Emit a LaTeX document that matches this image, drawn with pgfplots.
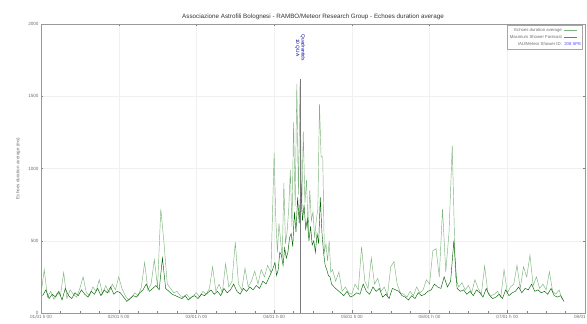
\documentclass[border=0pt]{standalone}
\usepackage{pgfplots}
\pgfplotsset{compat=1.18}
\usepackage{fontspec}
\setmainfont{Liberation Sans}
\definecolor{lgreen}{RGB}{125,180,125}
\definecolor{dgreen}{RGB}{0,100,0}
\definecolor{txtgrey}{RGB}{110,110,110}
\definecolor{vline}{RGB}{120,120,120}
\begin{document}
\begin{tikzpicture}
\begin{axis}[
  at={(0,0)}, anchor=south west,
  scale only axis, width=544bp, height=289bp,
  xmin=0, xmax=168, ymin=0, ymax=2000,
  xtick={0,24,48,72,96,120,144,168},
  xticklabels={01/01 h 00,02/01 h 00,03/01 h 00,04/01 h 00,05/01 h 00,06/01 h 00,07/01 h 00,08/01 h 00},
  ytick={0,500,1000,1500,2000},
  minor x tick num=3,
  tick align=inside, tick pos=both,
  major tick length=2.5bp, minor tick length=1.5bp,
  every tick/.style={color=gray},
  axis line style={gray!80},
  grid=major, major grid style={gray!12},
  /pgf/number format/assume math mode=true,
  /pgf/number format/1000 sep={},
  tick label style={font=\fontsize{4.6}{5}\selectfont, text=txtgrey},
  xticklabel style={yshift=1.5bp},
  yticklabel style={xshift=1bp},
  ylabel={Echoes duration average (ms)},
  ylabel style={font=\fontsize{4.6}{5}\selectfont, text=txtgrey, at={(axis description cs:-0.042,0.5)}, anchor=center},
  title={Associazione Astrofili Bolognesi - RAMBO/Meteor Research Group - Echoes duration average},
  title style={font=\fontsize{6.3}{7}\selectfont, text=black!80, yshift=-5bp},
  legend style={at={(rel axis cs:0.9945,0.995)}, anchor=north east, font=\fontsize{4.3}{5}\selectfont, text=txtgrey, draw=gray!70, inner sep=0.6bp, row sep=-1.5bp, fill=white},
  legend cell align=right, legend plot pos=right,
  legend image code/.code={\draw[#1] (0cm,0cm) -- (0.45cm,0cm);},
]
\addplot[lgreen, line width=0.45bp] coordinates {
(0,130)(1,300)(2,110)(3,150)(4,95)(5,140)(6,120)(7,280)(8,100)(9,160)(10,130)(11,110)(12,170)(13,250)(14,140)(15,120)(16,180)(17,150)(18,230)(19,130)(20,190)(21,140)(22,200)(23,160)
(24,250)(25,170)(26,120)(27,90)(28,110)(29,140)(30,120)(31,180)(32,350)(33,160)(34,200)(35,370)(36,180)(37,720)(38,480)(39,200)(40,170)(41,140)(42,150)(43,120)(44,110)(45,130)(46,100)(47,120)
(48,140)(49,110)(50,150)(51,130)(52,170)(53,320)(54,150)(55,200)(56,140)(57,340)(58,180)(59,220)(60,490)(61,200)(62,160)(63,310)(64,180)(65,220)(66,290)(67,200)(68,300)(69,250)(70,330)(71,280)
(72,1110)(72.5,660)(73,420)(73.5,620)(74,500)(74.5,380)(75,900)(75.5,480)(76,560)(76.5,720)(77,990)(77.5,600)(78,1320)(78.5,740)(79,1585)(79.5,820)(80,1600)(80.5,700)(81,1255)(81.5,760)(82,920)(82.5,560)(83,850)(83.5,640)(84,700)(84.5,520)(85,640)(85.5,720)(86,1445)(86.5,1080)(87,1080)(87.5,420)(88,480)(88.5,360)(89,500)(89.5,280)
(90,300)(91,220)(92,285)(93,150)(94,180)(95,140)(96,130)(97,200)(98,160)(99,458)(100,220)(101,170)(102,380)(103,200)(104,240)(105,150)(106,180)(107,120)(108,320)(109,355)(110,200)(111,140)(112,130)(113,110)(114,150)(115,120)(116,180)(117,140)(118,160)(119,230)
(120,200)(121,430)(122,445)(123,250)(124,720)(125,285)(126,555)(127,1160)(128,250)(129,180)(130,210)(131,160)(132,190)(133,140)(134,230)(135,170)(136,130)(137,325)(138,140)(139,120)(140,130)(141,150)(142,110)(143,300)
(144,140)(145,180)(146,200)(147,330)(148,170)(149,320)(150,250)(151,400)(152,190)(153,250)(154,170)(155,200)(156,160)(157,285)(158,150)(159,130)(160,160)(161,90)
};
\addlegendentry{Echoes duration average}
\addplot[dgreen, line width=0.45bp, forget plot] coordinates {
(0.5,120)(1.5,160)(2.5,100)(3.5,130)(4.5,110)(5.5,150)(6.5,90)(7.5,170)(8.5,120)(9.5,100)(10.5,140)(11.5,120)(12.5,160)(13.5,130)(14.5,110)(15.5,150)(16.5,130)(17.5,170)(18.5,120)(19.5,160)(20.5,140)(21.5,180)(22.5,130)(23.5,150)
(24.5,140)(25.5,110)(26.5,80)(27.5,100)(28.5,120)(29.5,110)(30.5,140)(31.5,160)(32.5,200)(33.5,150)(34.5,170)(35.5,190)(36.5,160)(37.5,380)(38.5,170)(39.5,150)(40.5,130)(41.5,120)(42.5,110)(43.5,100)(44.5,120)(45.5,90)(46.5,110)(47.5,120)
(48.5,100)(49.5,130)(50.5,120)(51.5,140)(52.5,160)(53.5,130)(54.5,150)(55.5,120)(56.5,170)(57.5,140)(58.5,160)(59.5,200)(60.5,150)(61.5,130)(62.5,170)(63.5,150)(64.5,180)(65.5,160)(66.5,190)(67.5,170)(68.5,220)(69.5,200)(70.5,250)(71.5,300)
(72.25,350)(72.75,260)(73.25,300)(73.75,420)(74.25,400)(74.75,330)(75.25,450)(75.75,380)(76.25,420)(76.75,520)(77.25,550)(77.75,460)(78.25,700)(78.75,560)(79.25,800)(79.75,620)(80.25,900)(80.75,640)(81.25,750)(81.75,580)(82.25,650)(82.75,500)(83.25,600)(83.75,470)(84.25,500)(84.75,420)(85.25,550)(85.75,480)(86.25,800)(86.75,560)(87.25,420)(87.75,330)(88.25,300)(88.75,260)(89.25,250)(89.75,200)
(90.5,180)(91.5,160)(92.5,140)(93.5,120)(94.5,150)(95.5,110)(96.5,120)(97.5,140)(98.5,130)(99.5,200)(100.5,150)(101.5,130)(102.5,180)(103.5,150)(104.5,170)(105.5,110)(106.5,130)(107.5,100)(108.5,170)(109.5,160)(110.5,150)(111.5,120)(112.5,110)(113.5,90)(114.5,120)(115.5,100)(116.5,140)(117.5,120)(118.5,130)(119.5,150)
(120.5,160)(121.5,200)(122.5,180)(123.5,170)(124.5,250)(125.5,180)(126.5,220)(127.5,500)(128.5,170)(129.5,150)(130.5,160)(131.5,130)(132.5,150)(133.5,120)(134.5,160)(135.5,140)(136.5,110)(137.5,170)(138.5,120)(139.5,100)(140.5,110)(141.5,130)(142.5,100)(143.5,160)
(144.5,120)(145.5,140)(146.5,150)(147.5,180)(148.5,140)(149.5,170)(150.5,160)(151.5,200)(152.5,150)(153.5,160)(154.5,140)(155.5,150)(156.5,130)(157.5,170)(158.5,120)(159.5,110)(160.5,120)(161.5,80)
};
\addplot[vline, line width=0.3bp] coordinates {(80,0)(80,1620)};
\addlegendentry{Maximum Shower Forecast}
\addlegendimage{legend image code/.code={\node[font=\fontsize{4.3}{5}\selectfont, text=blue!70, anchor=west, inner sep=0pt] at (0cm,0cm) {208 SPE};}}
\addlegendentry{IAU/Meteor Shower ID:}
\node[rotate=-90, anchor=west, font=\fontsize{4.8}{5.5}\selectfont, text=blue!60!black, align=center] at (axis cs:80,1950) {Quadrantids\\10 QUA};
\end{axis}
\pgfresetboundingbox
\path[use as bounding box] (-41bp,-11bp) rectangle (546bp,313bp);
\end{tikzpicture}
\end{document}
